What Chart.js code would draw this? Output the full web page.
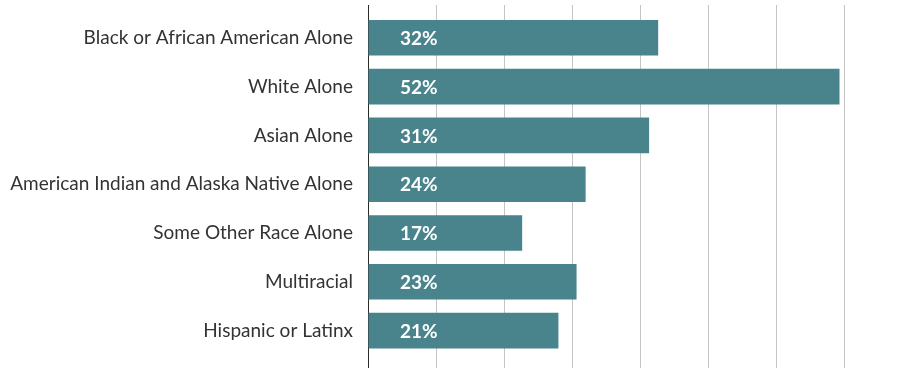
<!DOCTYPE html>
<html>
<head>
<meta charset="utf-8">
<script src="https://cdn.jsdelivr.net/npm/chart.js@4"></script>
<style>
  html, body { margin: 0; padding: 0; background: #ffffff; }
  #wrap { width: 903px; height: 368px; }
</style>
</head>
<body>
<div id="wrap"><canvas id="chart" width="903" height="368"></canvas></div>
<script>
// Share of each group, in percent
const categories = [
  'Black or African American Alone',
  'White Alone',
  'Asian Alone',
  'American Indian and Alaska Native Alone',
  'Some Other Race Alone',
  'Multiracial',
  'Hispanic or Latinx'
];
const shares = [32, 52, 31, 24, 17, 23, 21];

const BAR = '#49848c';
const AXIS = '#2b2b2b';
const GRID = '#c4c4c4';
const FONT = 'Lato, "Open Sans", sans-serif';

// Grid colour: the zero line continues the dark axis
const gridColor = ctx => (ctx.tick && ctx.tick.value === 0) ? AXIS : GRID;
const keepSteps = s => { s.ticks = s.ticks.filter(t => Math.abs(t.value / 7.5 - Math.round(t.value / 7.5)) < 1e-9); };

// Percentage written inside each bar, near its base
const barLabels = {
  id: 'barLabels',
  afterDatasetsDraw(chart) {
    const { ctx } = chart;
    const meta = chart.getDatasetMeta(0);
    const x0 = chart.scales.x.getPixelForValue(0);
    ctx.save();
    ctx.fillStyle = '#ffffff';
    ctx.font = 'bold 19px ' + FONT;
    ctx.textAlign = 'left';
    ctx.textBaseline = 'middle';
    meta.data.forEach((bar, i) => {
      ctx.fillText(shares[i] + '%', x0 + 32, bar.y + 1);
    });
    ctx.restore();
  }
};

new Chart(document.getElementById('chart'), {
  type: 'bar',
  data: {
    labels: categories,
    datasets: [{
      data: shares,
      backgroundColor: BAR,
      borderWidth: 0,
      categoryPercentage: 1,
      barPercentage: 0.73
    }]
  },
  options: {
    indexAxis: 'y',
    responsive: false,
    animation: false,
    layout: { padding: { top: 5, right: 0, bottom: 0, left: 0 } },
    plugins: { legend: { display: false }, tooltip: { enabled: false } },
    scales: {
      y: {
        afterFit: s => { s.width = 368; s.paddingTop = 0; s.paddingBottom = 0; },
        grid: { display: false, drawTicks: false },
        border: { display: true, color: AXIS, width: 1 },
        ticks: { color: '#333333', padding: 15, font: { family: FONT, size: 19 } }
      },
      x: {
        position: 'bottom',
        min: 0, max: 59,
        afterBuildTicks: keepSteps,
        ticks: { display: false, stepSize: 7.5 },
        border: { display: false },
        grid: { color: gridColor, lineWidth: 1, tickLength: 13, drawTicks: true }
      },
      xTop: {
        type: 'linear',
        axis: 'x',
        position: 'top',
        min: 0, max: 59,
        afterBuildTicks: keepSteps,
        ticks: { display: false, stepSize: 7.5 },
        border: { display: false },
        grid: { color: gridColor, lineWidth: 1, tickLength: 8.4, drawTicks: true }
      }
    }
  },
  plugins: [barLabels]
});
</script>
</body>
</html>
